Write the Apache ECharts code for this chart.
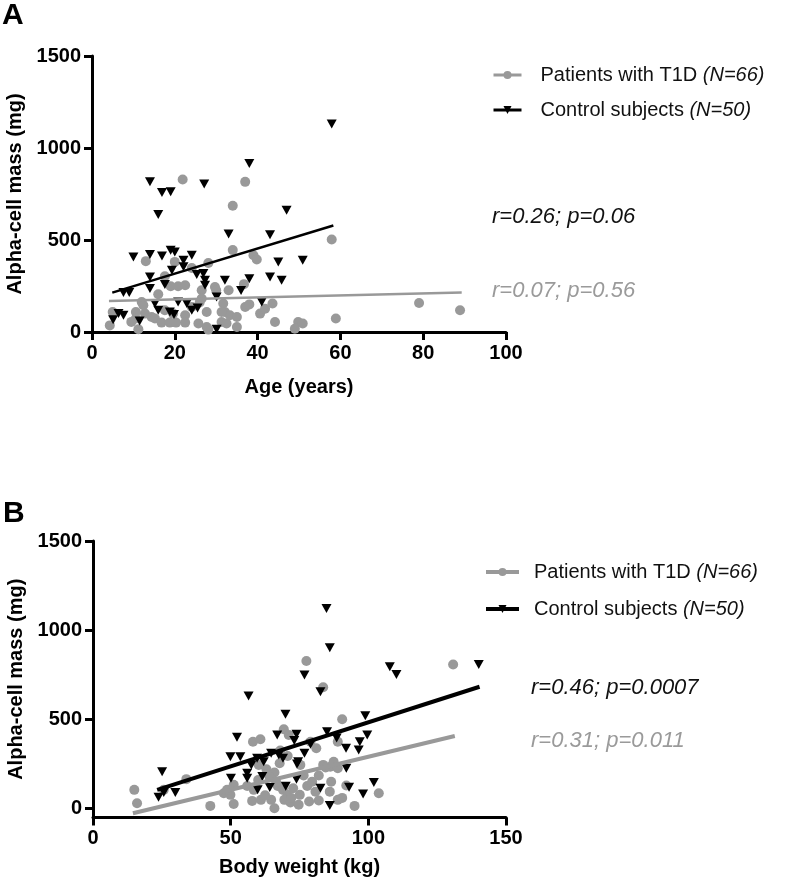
<!DOCTYPE html>
<html>
<head>
<meta charset="utf-8">
<script src="https://cdn.jsdelivr.net/npm/echarts@6/dist/echarts.min.js"></script>
<style>
  html, body { margin: 0; padding: 0; background: #fff; }
  #chart { width: 787px; height: 888px; }
</style>
</head>
<body>
<div id="chart"></div>
<script>
// Panel A: age (years) vs alpha-cell mass (mg)
const t1dAge = [
  [21.9,829],[37.0,816],[34.0,686],[34.0,445],[39.0,417],[39.8,394],[28.1,375],[13.0,385],[20.0,381],[24.1,348],
  [17.6,303],[19.0,249],[20.8,249],[22.5,254],[26.5,227],[29.7,245],[30.0,227],[33.0,227],[36.7,260],[16.0,205],
  [12.0,163],[12.4,145],[10.6,109],[5.0,109],[12.8,100],[14.4,82],[15.2,73],[10.6,73],[17.6,118],[19.6,100],
  [22.5,91],[24.1,136],[26.5,182],[27.7,109],[31.7,155],[32.1,109],[33.3,91],[35.0,82],[37.0,136],[40.6,100],
  [41.8,127],[43.6,155],[44.2,54],[4.3,36],[11.2,15],[16.8,51],[18.8,51],[20.3,51],[22.5,51],[25.7,46],
  [28.1,13],[27.7,27],[31.3,54],[32.5,46],[35.0,27],[31.3,109],[57.9,503],[79.0,158],[88.9,118],[49.8,54],
  [50.9,46],[49.0,18],[58.9,73],[9.5,55],[26.0,160],[38.0,150]
];
const ctrlAge = [
  [38.0,916],[57.9,1130],[14.0,816],[27.1,804],[16.9,758],[19.0,762],[16.0,639],[47.0,662],[33.0,533],[43.0,528],
  [10.0,408],[14.0,421],[16.9,413],[19.0,444],[20.0,435],[22.1,390],[24.1,417],[19.3,336],[22.1,354],[25.3,312],
  [26.9,318],[27.3,281],[14.0,299],[17.6,258],[14.0,236],[32.1,281],[38.0,290],[43.0,299],[45.8,281],[45.0,381],
  [7.6,214],[9.0,214],[27.3,254],[30.1,190],[15.2,155],[16.0,118],[20.8,163],[22.9,155],[24.1,118],[41.0,163],
  [18.8,109],[6.4,100],[7.6,91],[5.1,67],[30.1,15],[50.9,390],[19.8,95],[25.5,130],[11.5,60],[36.0,225]
];
const fitT1dAge = [[4.1,169],[89.3,214]];
const fitCtrlAge = [[4.9,214],[58.3,579]];

// Panel B: body weight (kg) vs alpha-cell mass (mg)
const t1dWeight = [
  [130.8,808],[77.5,827],[83.6,680],[90.5,501],[69.3,445],[71.1,413],[58.1,375],[60.8,389],[79.0,375],[88.9,375],
  [81.1,338],[33.9,165],[15.0,105],[16.0,30],[25.7,105],[42.6,15],[60.2,245],[63.0,220],[65.9,202],[67.8,254],
  [70.7,295],[75.3,245],[83.6,245],[86.2,235],[87.4,263],[88.9,226],[56.0,127],[58.4,105],[64.2,176],[67.1,127],
  [69.0,105],[70.7,77],[72.7,114],[75.1,77],[77.8,127],[79.6,151],[82.0,185],[80.8,95],[86.0,95],[92.0,129],
  [103.8,86],[88.9,49],[95.0,15],[82.0,45],[65.9,2],[64.7,49],[61.0,49],[57.8,43],[51.1,26],[47.5,86],
  [49.9,77],[48.7,105],[51.1,133],[69.5,49],[71.7,34],[74.7,21],[66.5,150],[72.0,60],[76.5,185],[60.0,160],
  [84.5,230],[68.0,325],[62.5,75],[78.5,40],[86.5,150],[90.5,60]
];
const ctrlWeight = [
  [84.8,1122],[86.0,902],[107.8,795],[110.2,752],[140.1,808],[76.8,749],[82.6,655],[56.5,631],[69.9,529],[98.9,521],
  [52.3,400],[66.9,413],[73.9,417],[73.1,381],[85.0,431],[99.6,413],[96.9,375],[96.5,329],[91.9,338],[49.9,291],
  [53.5,291],[59.6,282],[62.0,263],[64.7,310],[69.0,282],[76.8,310],[74.1,250],[92.0,226],[56.0,198],[50.1,170],
  [56.0,170],[73.9,165],[82.6,114],[102.0,146],[98.1,82],[86.0,17],[25.1,207],[23.8,64],[25.7,90],[29.9,90],
  [74.5,263],[59.8,105],[64.2,118],[67.5,300],[79.0,360],[88.5,395],[61.5,180],[70.0,125],[93.0,120],[57.5,245]
];
const fitT1dWeight = [[14.5,-26],[131.4,407]];
const fitCtrlWeight = [[23.3,105],[140.4,683]];

const yTicks = [0, 500, 1000, 1500];

const GRAY = '#999999';
const BLACK = '#000000';
const FONT = 'Liberation Sans, Arial, sans-serif';
const TRI = 'path://M0,0L10,0L5,9Z';

const chart = echarts.init(document.getElementById('chart'), null, { renderer: 'canvas' });

const tickLabel = { color: BLACK, fontSize: 20, fontWeight: 'bold', fontFamily: FONT, margin: 11, formatter: v => String(v) };

function axisStyle(extra) {
  return Object.assign({
    axisLine: { show: true, onZero: false, lineStyle: { color: BLACK, width: 3 } },
    axisTick: { show: true, length: 8, lineStyle: { color: BLACK, width: 3 } },
    axisLabel: tickLabel,
    splitLine: { show: false },
    nameLocation: 'middle',
    nameTextStyle: { color: BLACK, fontSize: 20, fontWeight: 'bold', fontFamily: FONT },
  }, extra);
}

const legendRich = {
  n: { fontSize: 20, fontFamily: FONT, color: '#111' },
  i: { fontSize: 20, fontFamily: FONT, color: '#111', fontStyle: 'italic' },
};
const legendLabel = {
  'Patients with T1D': '{n|Patients with T1D }{i|(N=66)}',
  'Control subjects': '{n|Control subjects }{i|(N=50)}',
};

function scatter(name, data, xi, symbol, color, size) {
  return {
    type: 'scatter', name, xAxisIndex: xi, yAxisIndex: xi, data,
    symbol, symbolSize: size, itemStyle: { color, opacity: 1 }, silent: true, z: 2,
  };
}
function fitLine(name, data, xi, color, width, symbol) {
  return {
    type: 'line', name, xAxisIndex: xi, yAxisIndex: xi, data,
    showSymbol: false, symbol, symbolSize: 8,
    lineStyle: { color, width }, itemStyle: { color }, z: 3, silent: true,
  };
}

chart.setOption({
  animation: false,
  backgroundColor: '#fff',
  grid: [
    { left: 92, top: 56, width: 414, height: 276, outerBoundsMode: 'none' },
    { left: 93, top: 541, width: 413, height: 276.5, outerBoundsMode: 'none' },
  ],
  xAxis: [
    axisStyle({ gridIndex: 0, type: 'value', min: 0, max: 100, interval: 20, name: 'Age (years)', nameGap: 45 }),
    axisStyle({ gridIndex: 1, type: 'value', min: 0, max: 150, interval: 50, name: 'Body weight (kg)', nameGap: 40 }),
  ],
  yAxis: [
    axisStyle({ gridIndex: 0, type: 'value', min: 0, max: 1500, interval: 500, name: 'Alpha-cell mass (mg)', nameGap: 58 }),
    axisStyle({
      gridIndex: 1, type: 'value', min: -50, max: 1500, name: 'Alpha-cell mass (mg)', nameGap: 58,
      axisTick: { show: true, length: 8, customValues: yTicks, lineStyle: { color: BLACK, width: 3 } },
      axisLabel: Object.assign({}, tickLabel, { customValues: yTicks }),
    }),
  ],
  legend: [
    {
      data: ['Patients with T1D', 'Control subjects'], orient: 'vertical', left: 492, top: 65, padding: 0,
      itemWidth: 28, itemHeight: 10, itemGap: 15, selectedMode: false,
      lineStyle: { width: 3 },
      formatter: n => legendLabel[n],
      textStyle: { rich: legendRich, padding: [0, 0, 0, 14] },
    },
    {
      data: ['Patients with T1D ', 'Control subjects '], orient: 'vertical', left: 484, top: 562, padding: 0,
      itemWidth: 33, itemHeight: 10, itemGap: 17, selectedMode: false,
      lineStyle: { width: 4 },
      formatter: n => legendLabel[n.trim()],
      textStyle: { rich: legendRich, padding: [0, 0, 0, 10] },
    },
  ],
  graphic: [
    { type: 'text', left: 2, top: 1, style: { text: 'A', fontSize: 30, fontWeight: 'bold', fontFamily: FONT, fill: BLACK } },
    { type: 'text', left: 3, top: 499, style: { text: 'B', fontSize: 30, fontWeight: 'bold', fontFamily: FONT, fill: BLACK } },
    { type: 'text', left: 492, top: 206, style: { text: 'r=0.26; p=0.06', fontSize: 22, fontStyle: 'italic', fontFamily: FONT, fill: '#111' } },
    { type: 'text', left: 492, top: 280, style: { text: 'r=0.07; p=0.56', fontSize: 22, fontStyle: 'italic', fontFamily: FONT, fill: '#9a9a9a' } },
    { type: 'text', left: 531, top: 677, style: { text: 'r=0.46; p=0.0007', fontSize: 22, fontStyle: 'italic', fontFamily: FONT, fill: '#111' } },
    { type: 'text', left: 531, top: 730, style: { text: 'r=0.31; p=0.011', fontSize: 22, fontStyle: 'italic', fontFamily: FONT, fill: '#9a9a9a' } },
  ],
  series: [
    scatter('t1dA', t1dAge, 0, 'circle', GRAY, 10),
    scatter('ctrlA', ctrlAge, 0, TRI, BLACK, [10, 9]),
    fitLine('Patients with T1D', fitT1dAge, 0, GRAY, 2.5, 'circle'),
    fitLine('Control subjects', fitCtrlAge, 0, BLACK, 2.5, TRI),
    scatter('t1dB', t1dWeight, 1, 'circle', GRAY, 10),
    scatter('ctrlB', ctrlWeight, 1, TRI, BLACK, [10, 9]),
    fitLine('Patients with T1D ', fitT1dWeight, 1, GRAY, 4, 'circle'),
    fitLine('Control subjects ', fitCtrlWeight, 1, BLACK, 4, TRI),
  ],
});
</script>
</body>
</html>
